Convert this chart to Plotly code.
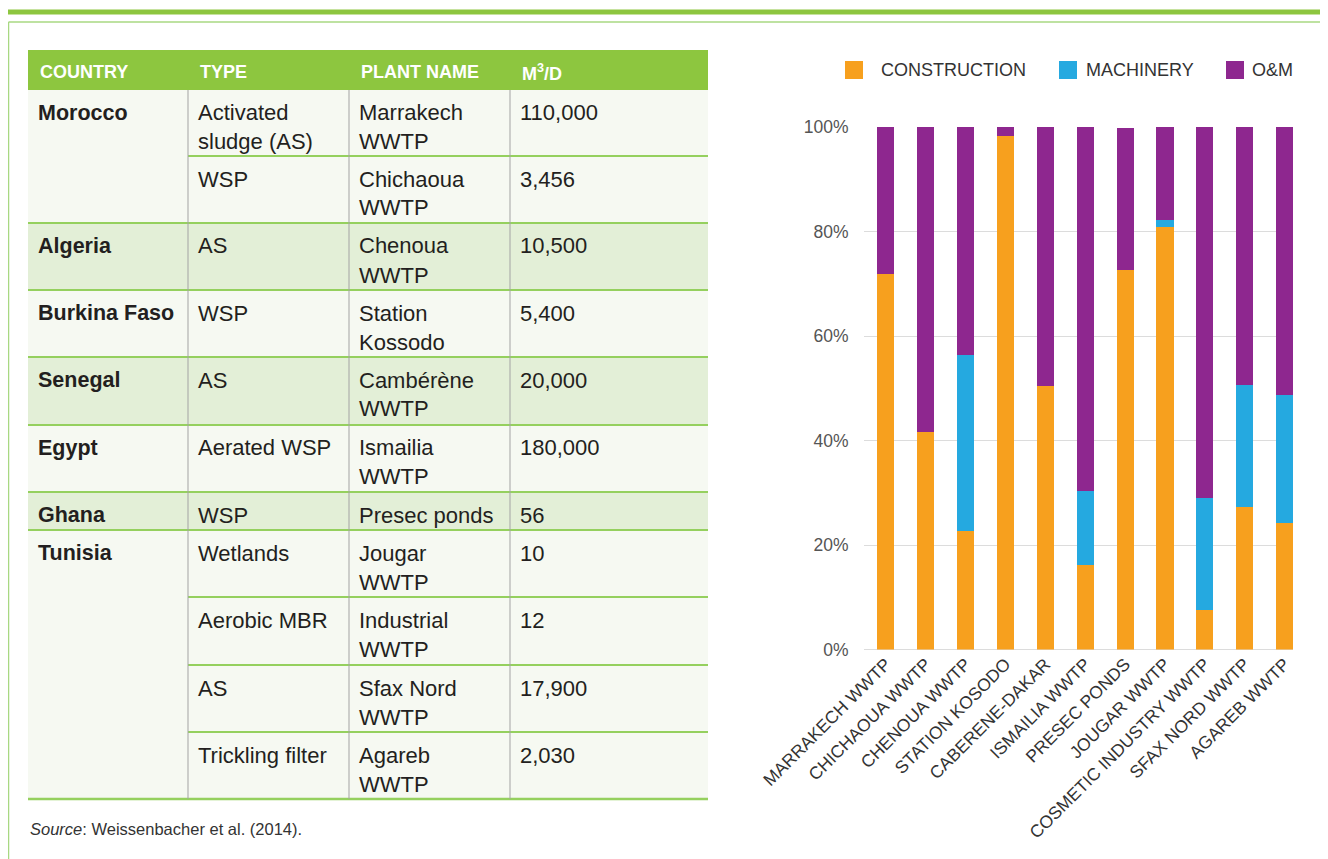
import plotly.graph_objects as go

# ---------------- data ----------------
plants = ["MARRAKECH WWTP", "CHICHAOUA WWTP", "CHENOUA WWTP", "STATION KOSODO",
          "CABERENE-DAKAR", "ISMAILIA WWTP", "PRESEC PONDS", "JOUGAR WWTP",
          "COSMETIC INDUSTRY WWTP", "SFAX NORD WWTP", "AGAREB WWTP"]
construction = [71.9, 41.6, 22.7, 98.3, 50.4, 16.2, 72.6, 80.9, 7.6, 27.3, 24.2]
machinery = [0.0, 0.0, 33.7, 0.0, 0.0, 14.1, 0.0, 1.3, 21.4, 23.3, 24.5]
om = [28.1, 58.4, 43.6, 1.7, 49.6, 69.7, 27.2, 17.8, 71.0, 49.4, 51.3]
series_names = ["CONSTRUCTION", "MACHINERY", "O&M"]
y_ticks = [0, 20, 40, 60, 80, 100]
y_tick_labels = ["0%", "20%", "40%", "60%", "80%", "100%"]

header = ["COUNTRY", "TYPE", "PLANT NAME", "M<sup>3</sup>/D"]
countries = ["Morocco", "Algeria", "Burkina Faso", "Senegal", "Egypt", "Ghana", "Tunisia"]
country_rows = [2, 1, 1, 1, 1, 1, 4]
types = ["Activated<br>sludge (AS)", "WSP", "AS", "WSP", "AS", "Aerated WSP", "WSP",
         "Wetlands", "Aerobic MBR", "AS", "Trickling filter"]
plant_names = ["Marrakech<br>WWTP", "Chichaoua<br>WWTP", "Chenoua<br>WWTP", "Station<br>Kossodo",
               "Cambérène<br>WWTP", "Ismailia<br>WWTP", "Presec ponds", "Jougar<br>WWTP",
               "Industrial<br>WWTP", "Sfax Nord<br>WWTP", "Agareb<br>WWTP"]
capacities = ["110,000", "3,456", "10,500", "5,400", "20,000", "180,000", "56",
              "10", "12", "17,900", "2,030"]
source_text = "<i>Source</i>: Weissenbacher et al. (2014)."

# ---------------- styles / layout ----------------
PAGE_W, PAGE_H = 1328, 859
OFF = 8                      # default page margin of the html body
W, H = PAGE_W - OFF, PAGE_H - OFF
ORANGE, BLUE, PURPLE = "#F7A01E", "#25A9E0", "#8E278F"
GREEN = "#8DC63F"
LINE_GREEN = "#95D05E"
ROW_LIGHT = "#F6F9F2"
ROW_GREEN = "#E3EFD7"
TEXT = "#231F20"
FONT = "Liberation Sans, Arial, sans-serif"


def px(x):
    return (x - OFF) / W


def py(y):
    return 1 - (y - OFF) / H


shapes = []
annotations = []


def rect(x0, y0, x1, y1, color):
    shapes.append(dict(type="rect", xref="paper", yref="paper", x0=px(x0), x1=px(x1),
                       y0=py(y1), y1=py(y0), fillcolor=color, line=dict(width=0), layer="below"))


def line(x0, y0, x1, y1, color, width):
    shapes.append(dict(type="line", xref="paper", yref="paper", x0=px(x0), x1=px(x1),
                       y0=py(y0), y1=py(y1), line=dict(color=color, width=width)))


def text(x, y, s, size, color=TEXT, bold=False, xanchor="left"):
    if bold:
        s = "<b>" + s + "</b>"
    annotations.append(dict(xref="paper", yref="paper", x=px(x), y=py(y), text=s,
                            showarrow=False, xanchor=xanchor, yanchor="middle",
                            font=dict(family=FONT, size=size, color=color)))


# page decorations
line(8, 12, PAGE_W, 12, GREEN, 5)
line(8.5, 22, PAGE_W, 22, "#A8D882", 1.5)
line(8.5, 22, 8.5, PAGE_H, "#A8D882", 1.5)

# table geometry
tx0, tx1 = 28, 708
col_x = [28, 188, 349, 510]
header_top, header_bot = 50, 90
row_edges = [90, 156, 223, 290, 357, 425, 492, 530, 597, 665, 732, 799]

rect(tx0, header_top, tx1, header_bot, GREEN)
for i, h in enumerate(header):
    text(col_x[i] + 10, 72.5, h, 18, "white", bold=True)

r = 0
for ci, (c, n) in enumerate(zip(countries, country_rows)):
    top, bot = row_edges[r], row_edges[r + n]
    rect(tx0, top, tx1, bot, ROW_LIGHT if ci % 2 == 0 else ROW_GREEN)
    text(col_x[0] + 8, top + 23, c, 21.5, bold=True)
    for k in range(n):
        rt = row_edges[r + k]
        for j, cell in enumerate([types[r + k], plant_names[r + k], capacities[r + k]]):
            for li, ln in enumerate(cell.split("<br>")):
                text(col_x[j + 1] + 8, rt + 23 + li * 29, ln, 22)
        if k > 0:
            line(col_x[1], rt, tx1, rt, LINE_GREEN, 2)
    if ci > 0:
        line(tx0, top, tx1, top, LINE_GREEN, 2)
    r += n
line(tx0, row_edges[-1], tx1, row_edges[-1], LINE_GREEN, 2.5)
for xv in col_x[1:]:
    line(xv, header_bot, xv, row_edges[-1], "#A3A3A3", 1)

text(28, 829, source_text, 16.5, "#333333")

# manual legend
leg_sq = [845, 1059, 1226]
leg_tx = [879, 1084, 1250]
for sx, tx, nm, col in zip(leg_sq, leg_tx, series_names, [ORANGE, BLUE, PURPLE]):
    shapes.append(dict(type="rect", xref="paper", yref="paper", x0=px(sx), x1=px(sx + 18),
                       y0=py(79), y1=py(61), fillcolor=col, line=dict(width=0)))
    text(tx, 70, nm, 18, "#333333")

# ---------------- chart ----------------
fig = go.Figure()
for nm, vals, col in zip(series_names, [construction, machinery, om], [ORANGE, BLUE, PURPLE]):
    fig.add_trace(go.Bar(x=plants, y=vals, name=nm, marker=dict(color=col, line=dict(width=0)),
                         showlegend=False))

fig.update_layout(
    template="none",
    width=W, height=H, autosize=False,
    margin=dict(l=0, r=0, t=0, b=0, pad=0),
    paper_bgcolor="white", plot_bgcolor="white",
    barmode="stack", bargap=0.57,
    font=dict(family=FONT, color="#333333"),
    shapes=shapes, annotations=annotations,
    xaxis=dict(domain=[px(863.5), px(1293)], range=[-0.562, 10.213], tickangle=-45,
               automargin=False, showgrid=False, showline=False, ticks="",
               zeroline=False,
               tickfont=dict(size=17.5, color="#333333", family=FONT)),
    yaxis=dict(domain=[py(649.5), py(127)], range=[0, 100], tickmode="array",
               tickvals=y_ticks, ticktext=y_tick_labels, automargin=False,
               showgrid=True, gridcolor="#DCDCDC", gridwidth=1,
               zeroline=True, zerolinecolor="#DCDCDC", zerolinewidth=1,
               showline=False, ticks="", ticklabelstandoff=14,
               tickfont=dict(size=17.5, color="#555555", family=FONT)),
)

fig.write_html("out.html")
